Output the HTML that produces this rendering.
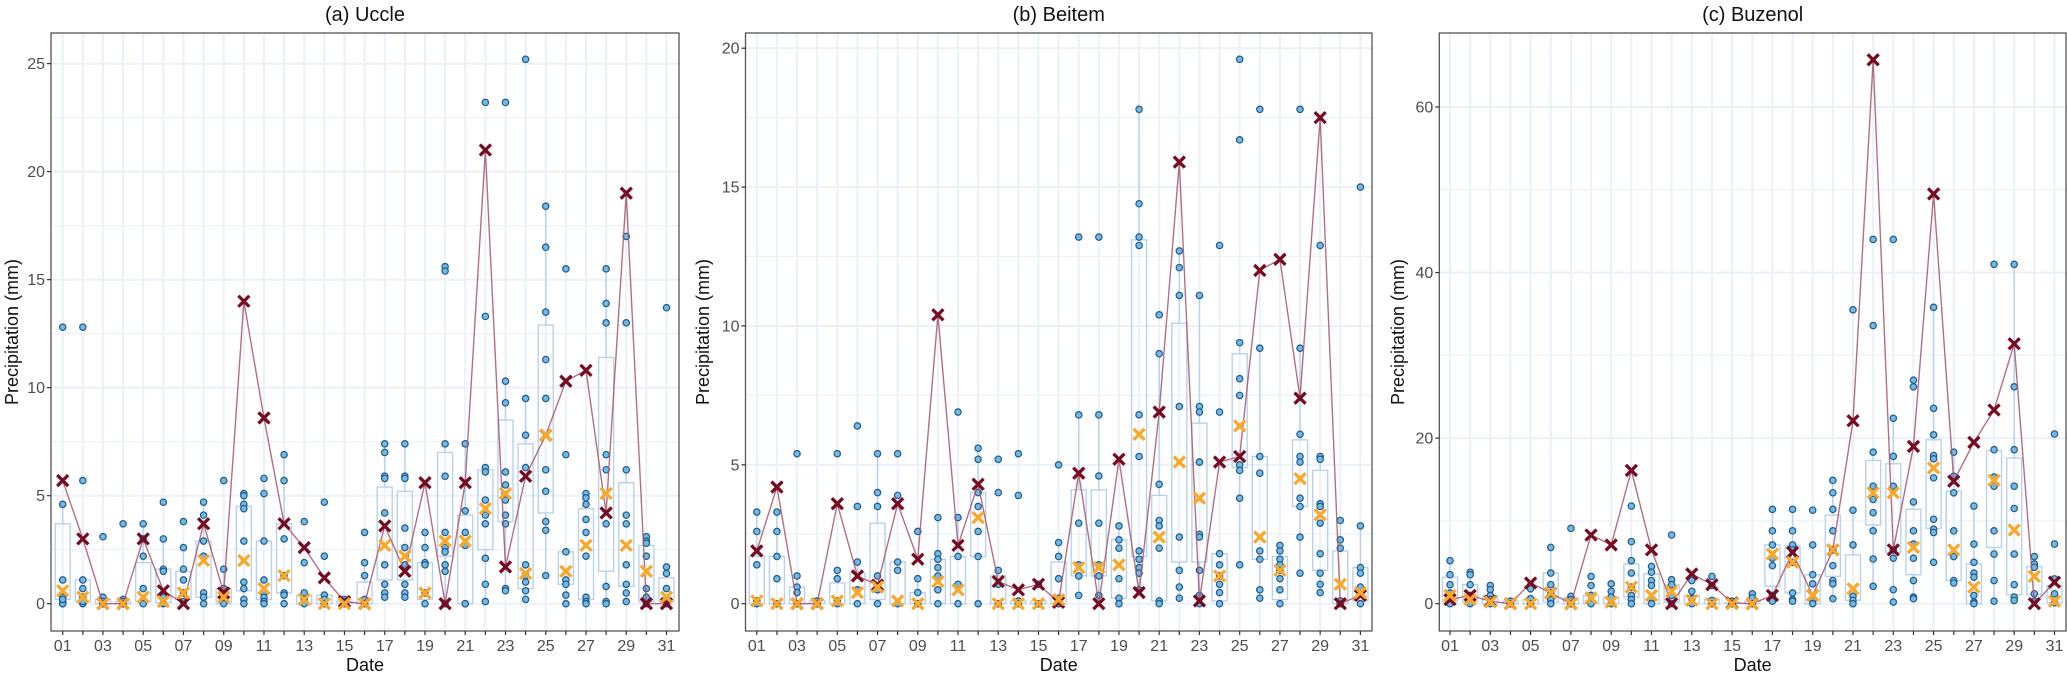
<!DOCTYPE html>
<html><head><meta charset="utf-8"><style>
html,body{margin:0;padding:0;background:#fff}
svg{display:block;font-family:"Liberation Sans",Arial,sans-serif}
</style></head><body>
<svg id="chart" width="2067" height="674" xmlns="http://www.w3.org/2000/svg"></svg>
<script>
const days = ["01","02","03","04","05","06","07","08","09","10","11","12","13","14","15","16","17","18","19","20","21","22","23","24","25","26","27","28","29","30","31"];
const titles = ["(a) Uccle","(b) Beitem","(c) Buzenol"];
const ticksA = [0,5,10,15,20,25];
const ticksB = [0,5,10,15,20];
const ticksC = [0,20,40,60];
const obsA = [5.7,3.0,0,0,3.0,0.6,0,3.7,0.5,14.0,8.6,3.7,2.6,1.2,0.1,0,3.6,1.5,5.6,0,5.6,21.0,1.7,5.9,7.8,10.3,10.8,4.2,19.0,0,0];
const medA = [0.6,0.3,0,0,0.3,0.1,0.5,2.0,0.3,2.0,0.7,1.3,0.2,0,0,0,2.7,2.2,0.5,2.9,2.9,4.4,5.1,1.4,7.8,1.5,2.7,5.1,2.7,1.5,0.3];
const q1A = [0.2,0.1,0,0,0.1,0.05,0.2,0.3,0,0.6,0.2,0.5,0,0,0,0,1.1,1.1,0.2,2.2,0,2.5,3.8,0.7,4.2,0.9,0.2,1.5,0.8,0.1,0.1];
const q3A = [3.7,1.1,0.2,0.1,1.9,1.6,1.5,2.9,0.7,4.5,2.9,3.7,0.4,0.4,0.1,1.0,5.4,5.2,1.9,7.0,4.1,6.2,8.5,7.4,12.9,2.4,4.4,11.4,5.6,2.7,1.2];
const ptsA = [[12.8,4.6,1.1,0.3,0.1,0,0,0.2],[12.8,5.7,1.1,0.7,0.3,0,0.1],[3.1,0.3,0.1,0,0],[3.7,0.2,0.1,0,0],[3.7,2.2,0.7,0.1,0,3.0],[4.7,3.0,1.6,1.5,0.3,0],[3.8,2.6,1.6,1.1,0.5,0.1],[4.7,4.1,2.9,2.2,0.5,0.3,0],[5.7,1.6,0.7,0.3,0],[5.1,5.0,4.6,4.4,2.9,1.0,0.7,0.2,0],[5.8,5.1,2.9,1.1,0.5,0.3,0.1,0],[6.9,5.7,3.0,1.3,0.5,0.4,0],[3.8,1.9,0.5,0.2,0],[4.7,2.2,0.4,0.2,0],[0.2,0.1,0],[3.3,1.9,1.3,0.2,0],[7.4,7.0,5.9,5.8,4.2,1.8,0.9,0.5,0.3],[7.4,5.9,5.8,3.5,2.6,1.8,0.9,0.5,0.3],[3.3,2.6,1.9,1.8,0.5,0],[15.6,15.4,7.4,5.9,3.3,2.6,2.4,1.8,1.5,0],[7.4,4.3,3.3,2.7,0,0],[23.2,13.3,6.3,6.1,4.8,4.1,3.7,2.1,0.9,0.1],[23.2,10.3,9.3,6.1,5.5,4.8,4.1,3.7,0.7,0.6],[25.2,9.5,7.8,6.3,1.8,1.3,1.0,0.6,0.2],[18.4,16.5,13.5,11.3,9.5,6.2,5.2,3.8,3.4,1.3],[15.5,6.9,2.4,1.1,0.9,0.4,0],[5.1,4.9,4.6,3.9,3.3,2.2,0.3,0.1,0],[15.5,13.9,13.0,6.9,6.2,3.7,0.8,0.1,0],[17.0,13.0,6.2,4.1,3.7,1.8,0.9,0.5,0.1],[3.1,2.9,2.8,2.2,0.7,0.3,0],[13.7,1.7,1.4,0.7,0.2,0]];
const obsB = [1.9,4.2,0,0,3.6,1.0,0.67,3.6,1.6,10.4,2.1,4.3,0.8,0.5,0.7,0.05,4.7,0,5.2,0.4,6.9,15.9,0.1,5.1,5.3,12.0,12.4,7.4,17.5,0,0.3];
const medB = [0.1,0,0,0,0.1,0.4,0.6,0.1,0,0.8,0.5,3.1,0,0,0,0.15,1.3,1.3,1.4,6.1,2.4,5.1,3.8,1.0,6.4,2.4,1.2,4.5,3.2,0.7,0.4];
const q1B = [0,0,0,0,0,0,0.15,0,0,0,0,1.7,0,0,0,0,1.0,1.0,0.2,1.7,0.1,1.5,1.5,0.1,4.9,1.6,0.15,3.5,1.2,0,0.1];
const q3B = [1.7,1.7,0.6,0.1,0.75,1.1,2.9,1.5,0.4,1.6,1.7,4.0,1.0,0.1,0.1,1.5,4.1,4.1,2.3,13.1,3.9,10.1,6.5,1.8,9.0,5.3,1.7,5.9,4.8,1.9,1.3];
const ptsB = [[3.3,2.6,1.4,0.1,0],[3.3,2.6,1.7,0.9,0],[5.4,1.0,0.6,0.4,0],[0.1,0,0],[5.4,1.2,0.9,0.1,0],[6.4,3.5,1.5,0.5,0],[5.4,4.0,3.5,1.0,0.5,0],[5.4,3.9,1.5,1.2,0],[2.6,0.9,0.4,0],[3.1,1.8,1.6,1.3,1.0,0.5,0],[6.9,3.1,1.7,0.7,0],[5.6,5.2,4.0,3.5,2.6,1.7,0],[5.2,4.0,1.2,0.7,0],[5.4,3.9,0.1,0],[0.7,0,0],[5.0,2.2,1.7,0.9,0.2,0],[13.2,6.8,2.9,1.4,1.0,0.3],[13.2,6.8,4.6,2.9,1.4,1.0,0.3],[2.8,2.3,2.0,0.9,0.2,0],[17.8,14.4,13.2,12.9,6.8,5.3,1.9,1.6,1.3,1.1,0.5],[10.4,9.0,4.3,3.0,2.8,2.0,0.1,0],[12.7,12.1,11.1,7.1,2.4,1.2,0.6,0.2],[11.1,7.1,6.9,5.1,5.1,2.5,2.4,1.2,0.3,0],[12.9,6.9,1.8,1.4,1.0,0.7,0.4,0],[19.6,16.7,9.4,8.1,7.5,5.0,4.8,3.8,1.4],[17.8,9.2,5.3,4.7,1.9,1.6,0.5,0.2],[2.1,1.9,1.6,1.4,1.2,0.9,0.5,0],[17.8,9.2,6.1,5.3,5.1,3.8,3.5,2.4,1.1],[12.9,5.3,5.2,3.6,3.5,2.9,1.8,1.1,0.7,0.4],[3.0,2.3,2.0,0.1,0],[15.0,2.8,1.3,1.1,0.6,0]];
const obsC = [0.5,1.0,0.3,0,2.5,1.3,0,8.3,7.1,16.1,6.5,0,3.6,2.3,0.1,0,1.0,6.2,1.0,6.5,22.1,65.7,6.5,19.0,49.5,14.8,19.5,23.4,31.4,0,2.6];
const medC = [1.0,0.5,0.2,0,0,1.3,0,0.7,0.2,2.0,1.0,1.5,0.4,0,0,0,6.0,5.0,1.0,6.5,1.8,13.4,13.4,6.8,16.4,6.5,2.0,14.9,8.9,3.3,0.3];
const q1C = [0.3,0.2,0,0,0,0.2,0,0,0,0.8,0,0.2,0,0,0,0,2.1,1.3,0,3.3,0.4,9.5,6.2,3.5,9.1,2.8,0,6.8,1.1,1.1,0.1];
const q3C = [3.2,2.3,1.0,0.3,0.5,3.7,0.7,1.0,0.8,4.8,3.6,2.3,1.0,0.5,0.1,0.3,7.1,7.0,3.5,10.7,5.9,17.3,16.9,11.4,19.8,13.6,4.8,18.5,17.6,4.5,2.2];
const ptsC = [[5.2,3.5,2.3,1.3,0.5,0],[3.8,3.5,2.3,1.0,0.3,0],[2.2,1.7,1.0,0.5,0],[0.3,0,0],[2.2,1.8,0.6,0],[6.8,3.7,2.3,1.3,0.5,0],[9.1,0.9,0.5,0],[3.3,2.2,1.0,0.3,0],[2.4,1.5,0.8,0],[11.8,7.5,5.2,3.7,2.0,1.0,0.5,0],[4.5,3.8,2.8,2.2,0.6,0],[8.3,2.9,2.3,1.0,0],[2.8,1.5,0.6,0],[3.3,2.2,0.4,0],[0.3,0,0],[1.2,0.7,0],[11.4,8.8,7.1,5.5,4.6,1.0,0.3],[11.4,8.8,7.1,6.5,5.0,1.3,0.5,0.3],[11.3,7.1,3.5,2.4,0.5,0],[14.9,13.4,11.4,8.8,6.5,4.6,2.8,2.4,0.6],[35.5,11.3,7.1,0.9,0.4,0],[44.0,33.6,18.3,14.2,12.6,11.0,8.8,5.4,2.1],[44.0,22.4,17.8,14.2,6.5,5.5,1.7,0.2],[27.0,26.2,12.3,8.8,7.2,5.5,2.8,0.8,0.6],[35.8,23.6,20.4,17.9,17.5,15.2,10.2,9.0,8.6,5.0],[18.3,15.4,13.4,8.8,5.7,2.8,2.5],[11.8,7.2,5.0,3.7,3.2,1.0,0.2,0],[41.0,18.6,15.3,14.2,8.8,6.0,2.8,0.3],[41.0,26.2,18.6,14.2,11.5,6.0,2.3,0.8,0.4],[5.7,4.8,4.4,1.2,0.3],[20.5,7.2,3.0,1.2,0.1]];

const NS="http://www.w3.org/2000/svg";
const svg=document.getElementById('chart');
function mk(tag,attrs,parent){const e=document.createElementNS(NS,tag);for(const k in attrs)e.setAttribute(k,attrs[k]);(parent||svg).appendChild(e);return e;}

const panels=[
 {key:'uccle',left:51,right:679,d1:62.7,d31:666.5,ymax:25,ypxmax:63.6,ticks:ticksA,minor:2.5,obs:obsA,med:medA,q1:q1A,q3:q3A,pts:ptsA,ytx:11,title:titles[0]},
 {key:'beitem',left:745.5,right:1372,d1:756.8,d31:1360.4,ymax:20,ypxmax:48.2,ticks:ticksB,minor:2.5,obs:obsB,med:medB,q1:q1B,q3:q3B,pts:ptsB,ytx:702,title:titles[1]},
 {key:'buzenol',left:1439.3,right:2066,d1:1450,d31:2054.5,ymax:60,ypxmax:107,ticks:ticksC,minor:10,obs:obsC,med:medC,q1:q1C,q3:q3C,pts:ptsC,ytx:1397,title:titles[2]}
];
const TOP=33,BOT=631,Y0=603.7;

panels.forEach(p=>{
 const g=mk('g',{});
 
 
 const xs=i=>p.d1+(p.d31-p.d1)*i/30;
 const ys=v=>Y0-(Y0-p.ypxmax)*v/p.ymax;
 const vmin=(Y0-BOT)/((Y0-p.ypxmax)/p.ymax), vmaxTop=(Y0-TOP)/((Y0-p.ypxmax)/p.ymax);
 // grid
 const grid=mk('g',{},g);
 
 
 for(let v=-p.minor*2;v<=vmaxTop;v+=p.minor){ if(v<vmin||v>vmaxTop)continue;
  const major=Math.abs(v/p.minor)%2===0;
  mk('line',{x1:p.left,x2:p.right,y1:ys(v),y2:ys(v),stroke:'#ebf1f8','stroke-width':major?2:1.2},grid);}
 days.forEach((d,i)=>mk('line',{x1:xs(i),x2:xs(i),y1:TOP,y2:BOT,stroke:'#ebf1f8','stroke-width':2},grid));
 // boxes
 days.forEach((d,i)=>{
  const bg=mk('g',{},g);
  
  
  const q1=p.q1[i],q3=p.q3[i],iqr=q3-q1,pts=p.pts[i];
  const inr=pts.filter(v=>v<=q3+1.5*iqr&&v>=q1-1.5*iqr);
  const hi=Math.max(q3,...inr),lo=Math.min(q1,...inr);
  const x=xs(i),w=7.5;
  mk('line',{x1:x,x2:x,y1:ys(q3),y2:ys(hi),stroke:'#b8d2ec','stroke-width':1.4},bg);
  mk('line',{x1:x,x2:x,y1:ys(q1),y2:ys(lo),stroke:'#b8d2ec','stroke-width':1.4},bg);
  mk('rect',{x:x-w,y:ys(q3),width:2*w,height:Math.max(0.5,ys(q1)-ys(q3)),fill:'none',stroke:'#b8d2ec','stroke-width':1.4},bg);
 });
 // points
 days.forEach((d,i)=>{p.pts[i].forEach(v=>{
  const c=mk('circle',{cx:xs(i),cy:ys(v),r:3.2,fill:'#74b9e0',stroke:'#1f5a8f','stroke-width':1.2},g);
  
  
 });});
 // obs line
 const line=mk('polyline',{points:p.obs.map((v,i)=>xs(i)+','+ys(v)).join(' '),fill:'none',stroke:'#a4566f','stroke-width':1.4,'stroke-opacity':0.85},g);
 
 
 const cross=(x,y,col,name)=>{const cg=mk('g',{},g);
  
  
  const s=5.5;
  mk('line',{x1:x-s,y1:y-s,x2:x+s,y2:y+s,stroke:col,'stroke-width':3.3},cg);
  mk('line',{x1:x-s,y1:y+s,x2:x+s,y2:y-s,stroke:col,'stroke-width':3.3},cg);};
 p.obs.forEach((v,i)=>cross(xs(i),ys(v),'#750c22','observed-marker-day-'+days[i]));
 p.med.forEach((v,i)=>cross(xs(i),ys(v),'#f9a829','median-marker-day-'+days[i]));
 // frame
 const fr=mk('rect',{x:p.left,y:TOP,width:p.right-p.left,height:BOT-TOP,fill:'none',stroke:'#555','stroke-width':1.3},g);
 
 
 // y ticks
 p.ticks.forEach(v=>{
  mk('line',{x1:p.left-4,x2:p.left,y1:ys(v),y2:ys(v),stroke:'#333','stroke-width':1.2},g);
  const t=mk('text',{x:p.left-6,y:ys(v)+5.5,'text-anchor':'end','font-size':16,fill:'#4d4d4d'},g);
  t.textContent=v;
  
  
 });
 // x ticks
 days.forEach((d,i)=>{
  mk('line',{x1:xs(i),x2:xs(i),y1:BOT,y2:BOT+4,stroke:'#333','stroke-width':1.2},g);
  if(i%2===0){const t=mk('text',{x:xs(i),y:651,'text-anchor':'middle','font-size':16,fill:'#4d4d4d'},g);
   t.textContent=d;
   
   }
 });
 const xt=mk('text',{x:(p.left+p.right)/2,y:671,'text-anchor':'middle','font-size':18,fill:'#111'},g);
 xt.textContent='Date';
 
 
 const yt=mk('text',{x:0,y:0,transform:'translate('+(p.ytx+7)+','+((TOP+BOT)/2)+') rotate(-90)','text-anchor':'middle','font-size':18,fill:'#111'},g);
 yt.textContent='Precipitation (mm)';
 
 
 const tt=mk('text',{x:(p.left+p.right)/2,y:21,'text-anchor':'middle','font-size':20,fill:'#111'},g);
 tt.textContent=p.title;
 
 
});
</script>
</body></html>
